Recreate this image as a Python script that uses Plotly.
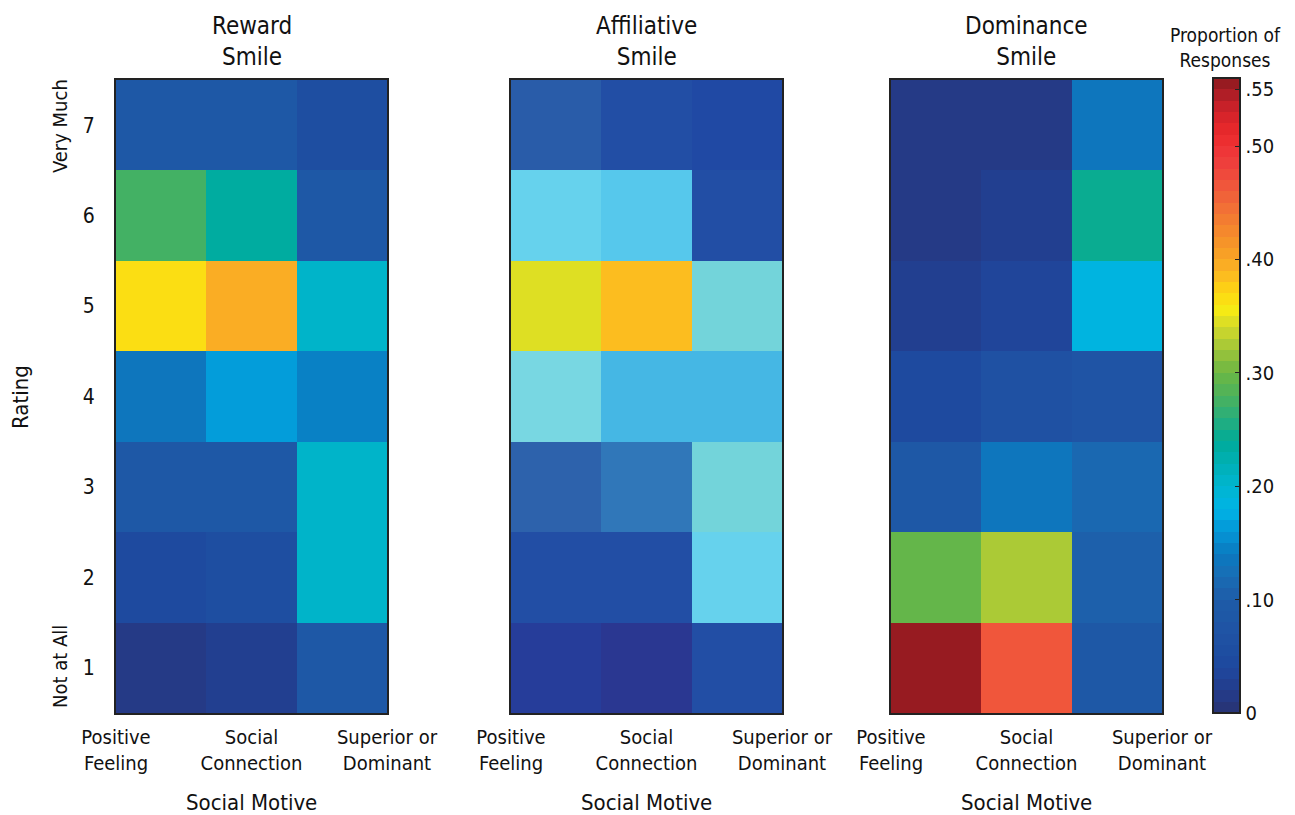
import plotly.graph_objects as go
import numpy as np

# ---------------- data ----------------
motives = ["Positive<br>Feeling", "Social<br>Connection", "Superior or<br>Dominant"]
ratings = [1, 2, 3, 4, 5, 6, 7]
rating_labels = ["1", "2", "3", "4", "5", "6", "7"]
panel_titles = ["Reward<br>Smile", "Affiliative<br>Smile", "Dominance<br>Smile"]

# rows = rating 1..7, columns = motives
reward = [
    [0.010, 0.020, 0.090],
    [0.040, 0.060, 0.200],
    [0.080, 0.080, 0.200],
    [0.130, 0.160, 0.140],
    [0.370, 0.390, 0.210],
    [0.270, 0.230, 0.080],
    [0.090, 0.080, 0.060],
]
affiliative = [
    [0.020, 0.015, 0.050],
    [0.050, 0.050, 0.185],
    [0.080, 0.120, 0.215],
    [0.200, 0.160, 0.165],
    [0.350, 0.385, 0.215],
    [0.190, 0.180, 0.060],
    [0.070, 0.050, 0.040],
]
dominance = [
    [0.550, 0.465, 0.085],
    [0.300, 0.325, 0.100],
    [0.080, 0.135, 0.120],
    [0.040, 0.065, 0.075],
    [0.020, 0.035, 0.190],
    [0.010, 0.020, 0.250],
    [0.010, 0.010, 0.130],
]
panels = [reward, affiliative, dominance]

cb_tickvals = [0, 0.10, 0.20, 0.30, 0.40, 0.50, 0.55]
cb_ticktext = ["0", ".10", ".20", ".30", ".40", ".50", ".55"]
ZMAX = 0.56

# ---------------- colour scale (stepped) ----------------
anchors = [
    (0.00, "#283372"), (0.02, "#243c8c"), (0.04, "#1e489e"), (0.07, "#1f53a4"),
    (0.10, "#1e5ca8"), (0.12, "#196cb4"), (0.14, "#0b7ac0"), (0.16, "#0496d6"),
    (0.18, "#00b4e6"), (0.20, "#00b5cf"), (0.22, "#00b0b6"), (0.24, "#00ab98"),
    (0.26, "#28ae7c"), (0.28, "#4cb25c"), (0.30, "#6cb744"), (0.32, "#9ec43a"),
    (0.34, "#d3da2a"), (0.355, "#f5ea15"), (0.37, "#fed812"), (0.39, "#fbb423"),
    (0.41, "#f79a27"), (0.43, "#f4822f"), (0.45, "#f16a38"), (0.47, "#ef4f3c"),
    (0.49, "#ee3a3c"), (0.51, "#ec2a2c"), (0.53, "#d2222a"), (0.545, "#b01e26"),
    (0.56, "#8a1a1e"),
]

def hex2rgb(h):
    h = h.lstrip("#")
    return np.array([int(h[i:i + 2], 16) for i in (0, 2, 4)], dtype=float)

av = np.array([a[0] for a in anchors])
ac = np.array([hex2rgb(a[1]) for a in anchors])

def col_at(v):
    return np.array([np.interp(v, av, ac[:, k]) for k in range(3)])

def make_scale(nsteps=56, pale=False):
    scale = []
    for i in range(nsteps):
        lo, hi = i / nsteps, (i + 1) / nsteps
        v = (lo + hi) / 2 * ZMAX
        c = col_at(v)
        if pale:  # the middle panel is printed in lighter tints
            base = 0.09 * np.clip((v - 0.05) / 0.05, 0, 1) if v < 0.3 else 0.0
            w = 0.38 * np.exp(-((v - 0.205) / 0.045) ** 2) + base
            c = c * (1 - w) + 255 * w
            if v < 0.07:
                c = c + np.array([6, -3, 14]) * (1 - v / 0.07)
        c = np.clip(c, 0, 255)
        s = "rgb(%d,%d,%d)" % tuple(int(round(x)) for x in c)
        scale.append([lo, s])
        scale.append([hi, s])
    return scale

main_scale = make_scale()
pale_scale = make_scale(pale=True)

# ---------------- layout geometry ----------------
W, H = 1295, 815
px = [(116, 387), (511, 782), (891, 1162)]
ytop, ybot = 80, 713
FONT = "DejaVu Sans Condensed, Liberation Sans Narrow, Arial Narrow, sans-serif"

fig = go.Figure()
layout = dict(
    width=W, height=H,
    margin=dict(l=0, r=0, t=0, b=0, autoexpand=False),
    paper_bgcolor="white", plot_bgcolor="white",
    font=dict(family=FONT, color="#111", size=20),
    showlegend=False,
)
annotations = []

for i, (data, (x0, x1)) in enumerate(zip(panels, px)):
    xa = "x" if i == 0 else "x%d" % (i + 1)
    ya = "y" if i == 0 else "y%d" % (i + 1)
    fig.add_trace(go.Heatmap(
        z=data, x=[0, 1, 2], y=ratings,
        colorscale=pale_scale if i == 1 else main_scale, zmin=0, zmax=ZMAX,
        xaxis=xa, yaxis=ya, xgap=0, ygap=0,
        showscale=(i == 2),
        colorbar=dict(
            x=1213 / W, xanchor="left", xpad=0, ypad=0,
            y=1 - (ytop - 2 + ybot) / 2 / H, yanchor="middle",
            lenmode="pixels", len=ybot - ytop + 2,
            thicknessmode="pixels", thickness=27,
            outlinecolor="#222", outlinewidth=2,
            tickvals=cb_tickvals, ticktext=cb_ticktext,
            ticks="inside", ticklen=6, tickcolor="#222",
            tickfont=dict(family=FONT, size=20, color="#111"),
        ),
    ))
    xkey = "xaxis" if i == 0 else "xaxis%d" % (i + 1)
    ykey = "yaxis" if i == 0 else "yaxis%d" % (i + 1)
    layout[xkey] = dict(
        domain=[x0 / W, x1 / W], anchor=ya, range=[-0.5, 2.5],
        tickvals=[-0.5, 1, 2.5], ticktext=motives, ticks="",
        showline=True, mirror=True, linecolor="#222", linewidth=2,
        showgrid=False, zeroline=False, fixedrange=True, automargin=False,
        tickfont=dict(family=FONT, size=20, color="#111"),
        ticklabelstandoff=5,
    )
    layout[ykey] = dict(
        domain=[1 - ybot / H, 1 - ytop / H], anchor=xa, range=[0.5, 7.5],
        tickvals=ratings, ticktext=rating_labels if i == 0 else [""] * 7,
        showticklabels=(i == 0), ticks="",
        showline=True, mirror=True, linecolor="#222", linewidth=2,
        showgrid=False, zeroline=False, fixedrange=True, automargin=False,
        tickfont=dict(family=FONT, size=21, color="#111"),
        ticklabelstandoff=15,
    )
    cx = (x0 + x1) / 2 / W
    annotations.append(dict(
        text=panel_titles[i], x=cx, y=1 - 41 / H, xref="paper", yref="paper",
        showarrow=False, xanchor="center", yanchor="middle",
        font=dict(family=FONT, size=24, color="#111"),
    ))
    annotations.append(dict(
        text="Social Motive", x=cx, y=1 - 802 / H, xref="paper", yref="paper",
        showarrow=False, xanchor="center", yanchor="middle",
        font=dict(family=FONT, size=22, color="#111"),
    ))

annotations += [
    dict(text="Very Much", x=60 / W, y=1 - 126 / H, xref="paper", yref="paper",
         textangle=-90, showarrow=False, xanchor="center", yanchor="middle",
         font=dict(family=FONT, size=20, color="#111")),
    dict(text="Not at All", x=60 / W, y=1 - 667 / H, xref="paper", yref="paper",
         textangle=-90, showarrow=False, xanchor="center", yanchor="middle",
         font=dict(family=FONT, size=20, color="#111")),
    dict(text="Rating", x=20 / W, y=1 - 397 / H, xref="paper", yref="paper",
         textangle=-90, showarrow=False, xanchor="center", yanchor="middle",
         font=dict(family=FONT, size=22, color="#111")),
    dict(text="Proportion of<br>Responses", x=1225 / W, y=1 - 47 / H,
         xref="paper", yref="paper", showarrow=False,
         xanchor="center", yanchor="middle",
         font=dict(family=FONT, size=19, color="#111")),
]
layout["annotations"] = annotations
fig.update_layout(**layout)
fig.write_html(
    "out.html",
    config={"displayModeBar": False},
    post_script="document.body.style.margin='0';document.body.style.padding='0';",
)
